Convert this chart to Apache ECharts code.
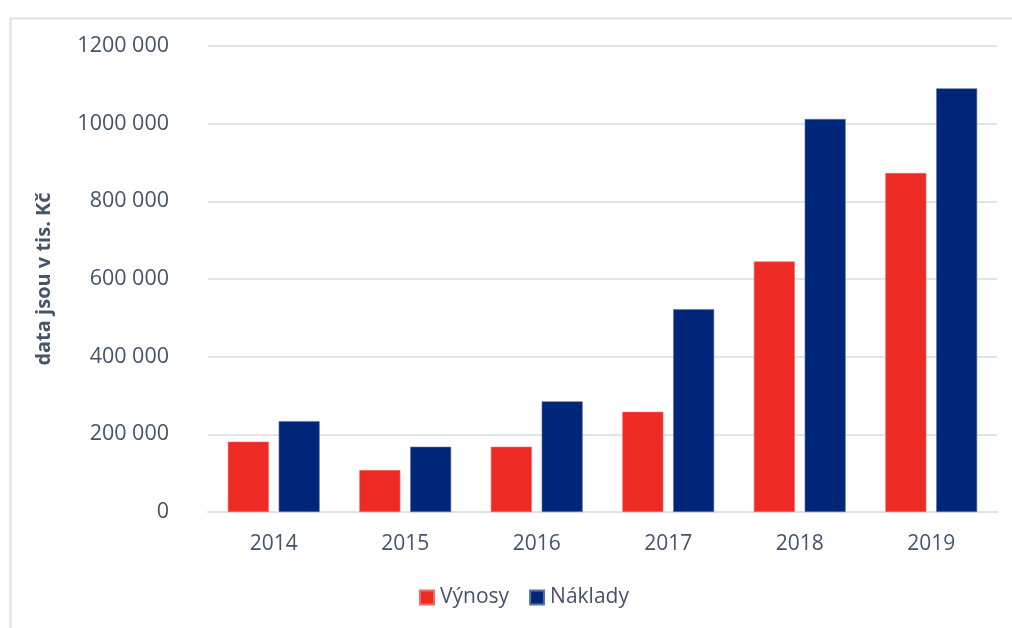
<!DOCTYPE html>
<html>
<head>
<meta charset="utf-8">
<script src="https://cdn.jsdelivr.net/npm/echarts@6/dist/echarts.min.js"></script>
<style>
    html, body { margin: 0; padding: 0; background: #fff; }
    #chart { width: 1012px; height: 628px; }
</style>
</head>
<body>
<div id="chart"></div>
<script>
// data
const years = ['2014', '2015', '2016', '2017', '2018', '2019'];
const vynosy = [181000, 108000, 168000, 258000, 645000, 873000];
const naklady = [234000, 168000, 285000, 522000, 1012000, 1091000];
const yTicks = [0, 200000, 400000, 600000, 800000, 1000000, 1200000];
const yTickLabels = ['0', '200 000', '400 000', '600 000', '800 000', '1000 000', '1200 000'];

const textColor = '#44546a';
const fontFamily = '"Open Sans", sans-serif';

const chart = echarts.init(document.getElementById('chart'));

chart.setOption({
    animation: false,
    textStyle: { fontFamily: fontFamily },
    graphic: [{
        type: 'rect',
        left: 8, top: 16,
        shape: { width: 1100, height: 700 },
        style: { fill: 'none', stroke: '#dde1e7', lineWidth: 2 },
        silent: true
    }],
    grid: { left: 208, right: 15, top: 46, bottom: 116 },
    legend: {
        top: 587,
        left: 419,
        padding: 0,
        itemWidth: 14,
        itemHeight: 14,
        itemGap: 20,
        icon: 'rect',
        textStyle: { color: textColor, fontSize: 21, fontFamily: fontFamily, padding: [0, 0, 0, 1] },
        data: ['Výnosy', 'Náklady']
    },
    xAxis: {
        type: 'category',
        data: years,
        axisLine: { lineStyle: { color: '#dfe3ea', width: 2 } },
        axisTick: { show: false },
        axisLabel: { color: textColor, fontSize: 21, margin: 22 }
    },
    yAxis: {
        type: 'value',
        min: 0,
        max: 1200000,
        interval: 200000,
        name: 'data jsou v tis. Kč',
        nameLocation: 'middle',
        nameGap: 154,
        nameTextStyle: { color: textColor, fontSize: 20, fontWeight: 'bold' },
        axisLine: { show: false },
        axisTick: { show: false },
        splitLine: { lineStyle: { color: '#dfe3ea', width: 2 } },
        axisLabel: {
            color: textColor,
            fontSize: 21.5,
            margin: 39,
            formatter: function (v) {
                const i = yTicks.indexOf(v);
                return i >= 0 ? yTickLabels[i] : '';
            }
        }
    },
    series: [{
        name: 'Výnosy',
        type: 'bar',
        data: vynosy,
        barWidth: 41,
        barGap: '24%',
        itemStyle: { color: '#ee2a24', borderColor: '#f26a66', borderWidth: 0.6 }
    }, {
        name: 'Náklady',
        type: 'bar',
        data: naklady,
        barWidth: 41,
        itemStyle: { color: '#00267a', borderColor: '#5a73a8', borderWidth: 0.6 }
    }]
});
</script>
</body>
</html>
